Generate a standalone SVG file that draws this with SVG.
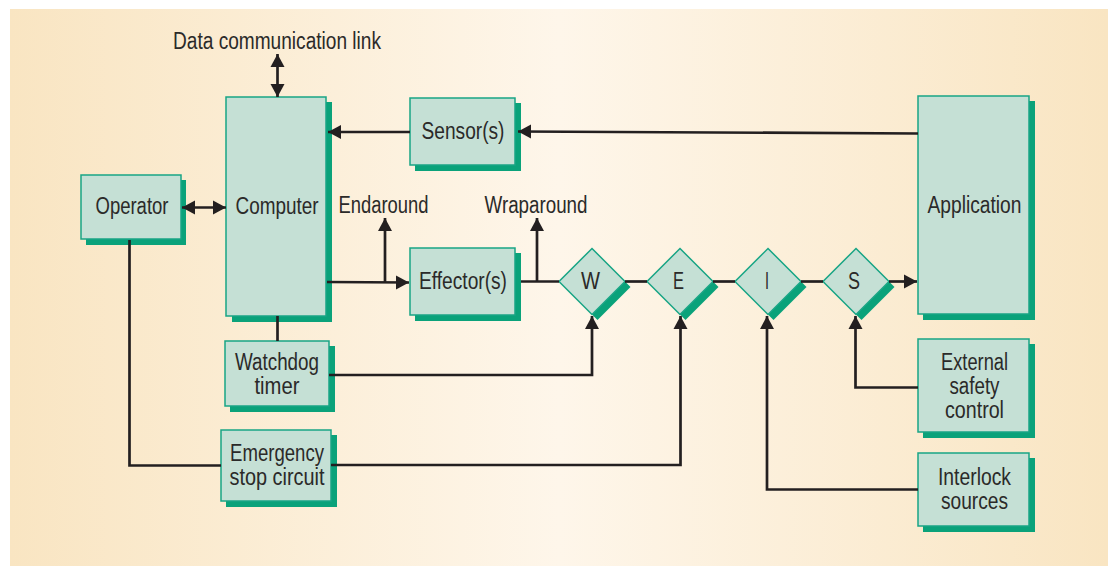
<svg xmlns="http://www.w3.org/2000/svg" width="1108" height="572" viewBox="0 0 1108 572">
<style>
.b{fill:#c5e0d5;stroke:#18a585;stroke-width:1.5}
.s{fill:#0aa27a}
.t{font-family:"Liberation Sans",Arial,sans-serif;font-size:23px;fill:#2b2a29;text-anchor:middle}
.c{fill:none;stroke:#231f20;stroke-width:2.7}
.m{fill:#231f20}
</style>
<defs>
<linearGradient id="bg" x1="0" y1="0" x2="1" y2="0">
<stop offset="0" stop-color="#f9e5c2"/><stop offset="0.5" stop-color="#fef6ea"/><stop offset="1" stop-color="#f9e5c2"/>
</linearGradient>
<marker id="a" markerUnits="userSpaceOnUse" markerWidth="15" markerHeight="15" refX="13" refY="7.500" orient="auto-start-reverse"><path class="m" d="M0 0.500L13 7.500L0 14.500Z"/></marker>
</defs>
<rect x="10" y="9" width="1098" height="557" fill="url(#bg)"/>
<g id="computer"><rect class="s" x="232" y="102" width="100" height="220"/><rect class="b" x="226" y="97" width="100" height="219"/><text class="t" x="277" y="214" textLength="83" lengthAdjust="spacingAndGlyphs">Computer</text></g>
<g id="operator"><rect class="s" x="86" y="180" width="100" height="65"/><rect class="b" x="81" y="175" width="100" height="64"/><text class="t" x="132" y="214" textLength="73" lengthAdjust="spacingAndGlyphs">Operator</text></g>
<g id="sensor"><rect class="s" x="415" y="103" width="106" height="68"/><rect class="b" x="410" y="98" width="105" height="67"/><text class="t" x="463" y="139" textLength="83" lengthAdjust="spacingAndGlyphs">Sensor(s)</text></g>
<g id="effector"><rect class="s" x="415" y="253" width="106" height="68"/><rect class="b" x="410" y="248" width="105" height="67"/><text class="t" x="463" y="289" textLength="88" lengthAdjust="spacingAndGlyphs">Effector(s)</text></g>
<g id="application"><rect class="s" x="923" y="101" width="112" height="219"/><rect class="b" x="918" y="96" width="111" height="218"/><text class="t" x="974.500" y="213" textLength="94" lengthAdjust="spacingAndGlyphs">Application</text></g>
<g id="external-safety-control"><rect class="s" x="923" y="344" width="112" height="94"/><rect class="b" x="918" y="339" width="111" height="93"/><text class="t" x="974.500" y="370" textLength="67" lengthAdjust="spacingAndGlyphs">External</text><text class="t" x="974.500" y="394" textLength="50" lengthAdjust="spacingAndGlyphs">safety</text><text class="t" x="974.500" y="418" textLength="59" lengthAdjust="spacingAndGlyphs">control</text></g>
<g id="interlock-sources"><rect class="s" x="923" y="458" width="112" height="74"/><rect class="b" x="918" y="453" width="111" height="73"/><text class="t" x="974.500" y="485" textLength="73" lengthAdjust="spacingAndGlyphs">Interlock</text><text class="t" x="974.500" y="509" textLength="67" lengthAdjust="spacingAndGlyphs">sources</text></g>
<g id="watchdog-timer"><rect class="s" x="230" y="346" width="105" height="66"/><rect class="b" x="225" y="341" width="104" height="65"/><text class="t" x="277" y="370" textLength="84" lengthAdjust="spacingAndGlyphs">Watchdog</text><text class="t" x="277" y="394" textLength="45" lengthAdjust="spacingAndGlyphs">timer</text></g>
<g id="emergency-stop-circuit"><rect class="s" x="226" y="435" width="111" height="72"/><rect class="b" x="221" y="430" width="110" height="71"/><text class="t" x="277" y="461" textLength="94" lengthAdjust="spacingAndGlyphs">Emergency</text><text class="t" x="277" y="485" textLength="95" lengthAdjust="spacingAndGlyphs">stop circuit</text></g>
<g id="w"><path class="s" d="M592 314.500L625 281.500L630.500 287L597.500 320Z"/><path class="b" d="M592 248.500L625 281.500L592 314.500L559 281.500Z"/><text class="t" x="590.500" y="288.500" textLength="19" lengthAdjust="spacingAndGlyphs">W</text></g>
<g id="e"><path class="s" d="M680 314.500L713 281.500L718.500 287L685.500 320Z"/><path class="b" d="M680 248.500L713 281.500L680 314.500L647 281.500Z"/><text class="t" x="678.500" y="288.500" textLength="11" lengthAdjust="spacingAndGlyphs">E</text></g>
<g id="i"><path class="s" d="M768 314.500L801 281.500L806.500 287L773.500 320Z"/><path class="b" d="M768 248.500L801 281.500L768 314.500L735 281.500Z"/><text class="t" x="767" y="288.500" textLength="4" lengthAdjust="spacingAndGlyphs">I</text></g>
<g id="s"><path class="s" d="M856 314.500L889 281.500L894.500 287L861.500 320Z"/><path class="b" d="M856 248.500L889 281.500L856 314.500L823 281.500Z"/><text class="t" x="854" y="288.500" textLength="12" lengthAdjust="spacingAndGlyphs">S</text></g>
<g id="connectors">
<path class="c" marker-start="url(#a)" marker-end="url(#a)" d="M277.500 54V97"/>
<path class="c" marker-start="url(#a)" marker-end="url(#a)" d="M182 207.500H226"/>
<path class="c" d="M277.500 316V341"/>
<path class="c" marker-end="url(#a)" d="M410 132H328"/>
<path class="c" marker-end="url(#a)" d="M918 133.500L518 131.500"/>
<path class="c" marker-end="url(#a)" d="M327 282L409 282.500"/>
<path class="c" marker-end="url(#a)" d="M385 282V218"/>
<path class="c" marker-end="url(#a)" d="M537 281.500V218"/>
<path class="c" d="M521 281.500H559"/>
<path class="c" d="M625 281.500H647"/>
<path class="c" d="M713 281.500H735"/>
<path class="c" d="M801 281.500H823"/>
<path class="c" marker-end="url(#a)" d="M889 281.500H917"/>
<path class="c" marker-end="url(#a)" d="M329 375H592V316"/>
<path class="c" d="M129.500 240V465.500H221"/>
<path class="c" marker-end="url(#a)" d="M331 465H680.500V316"/>
<path class="c" marker-end="url(#a)" d="M918 489.500H767V316"/>
<path class="c" marker-end="url(#a)" d="M918 387.500H855.500V316"/>
</g>
<g id="labels">
<text class="t" x="277" y="49" textLength="208" lengthAdjust="spacingAndGlyphs">Data communication link</text>
<text class="t" x="383.500" y="213" textLength="90" lengthAdjust="spacingAndGlyphs">Endaround</text>
<text class="t" x="536" y="213" textLength="103" lengthAdjust="spacingAndGlyphs">Wraparound</text>
</g>
</svg>
